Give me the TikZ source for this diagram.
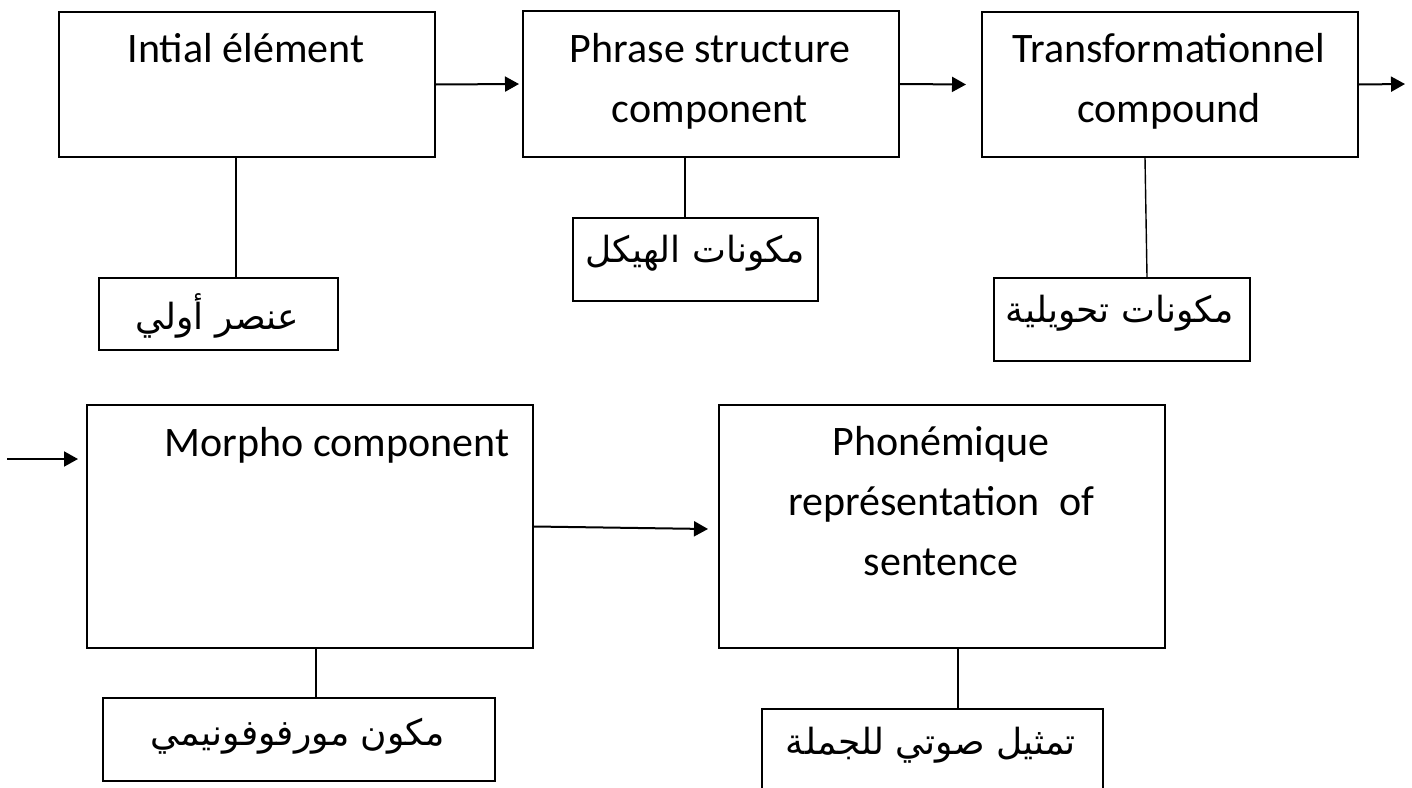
\documentclass[tikz,border=0pt]{standalone}
\usepackage{fontspec}
\setmainfont{Carlito}
\newfontfamily\arabicfont[Script=Arabic]{DejaVu Sans}
\TeXXeTstate=1
\usetikzlibrary{arrows.meta,calc}

\begin{document}
\begin{tikzpicture}[x=1pt,y=-1pt,
  box/.style={draw, line width=2pt, rectangle, inner sep=0pt, anchor=north west},
  link/.style={line width=1.4pt},
  flow/.style={line width=2pt, -{Triangle[length=14pt,width=15pt]}},
  lat/.style={anchor=base, font=\fontsize{42}{50}\selectfont, inner sep=0pt},
  arb/.style={anchor=center, font=\arabicfont\fontsize{36}{42}\selectfont, inner sep=0pt}]
\clip (0,0) rectangle (1412,787);

% main components
\node[box, minimum width=376pt, minimum height=145pt] (b1) at (58,11) {};
\node[box, minimum width=376pt, minimum height=146pt] (b2) at (522,10) {};
\node[box, minimum width=376pt, minimum height=145pt] (b3) at (981,11) {};
\node[box, minimum width=446pt, minimum height=243pt] (b4) at (86,404) {};
\node[box, minimum width=446pt, minimum height=243pt] (b5) at (718,404) {};

% Arabic glosses
\node[box, minimum width=239pt, minimum height=72pt]  (s1) at (98,277) {};
\node[box, minimum width=245pt, minimum height=83pt]  (s2) at (572,217) {};
\node[box, minimum width=256pt, minimum height=83pt]  (s3) at (993,277) {};
\node[box, minimum width=392pt, minimum height=83pt]  (s4) at (102,697) {};
\node[box, minimum width=341pt, minimum height=100pt] (s5) at (761,708) {};

% labels of the components
\node[lat] (t1)  at (246,62)  {Intial élément};
\node[lat] (t2a) at (710,62)  {Phrase structure};
\node[lat] (t2b) at (710,122) {component};
\node[lat] (t3a) at (1169,62) {Transformationnel};
\node[lat] (t3b) at (1169,122){compound};
\node[lat] (t4)  at (337,456) {Morpho component};
\node[lat] (t5a) at (941,455) {Phonémique};
\node[lat] (t5b) at (941,515) {représentation\ \ of};
\node[lat] (t5c) at (941,575) {sentence};

\node[arb] (a1) at (217,316) {\beginR عنصر أولي\endR};
\node[arb] (a2) at (695,253) {\beginR مكونات الهيكل\endR};
\node[arb] (a3) at (1120,313) {\beginR مكونات تحويلية\endR};
\node[arb] (a4) at (298,736) {\beginR مكون مورفوفونيمي\endR};
\node[arb] (a5) at (931,745) {\beginR تمثيل صوتي للجملة\endR};

% vertical links to the glosses
\draw[link] ([xshift=-11pt]b1.south) -- ([xshift=-11pt]b1.south |- s1.north);
\draw[link] ([xshift=-26pt]b2.south) -- ([xshift=-26pt]b2.south |- s2.north);
\draw[link] ([xshift=-25pt]b3.south) -- ([xshift=-23pt]b3.south |- s3.north);
\draw[link] ([xshift=6pt]b4.south)   -- ([xshift=6pt]b4.south |- s4.north);
\draw[link] ([xshift=16pt]b5.south)  -- ([xshift=16pt]b5.south |- s5.north);

% flow arrows
\coordinate (out3) at (1405,84);
\coordinate (in4) at (7,459);
\draw[flow] (b1.east) -- ([xshift=-3pt]b2.west);
\draw[flow] (b2.east) -- ([xshift=-15pt]b3.west);
\draw[flow] (b3.east) -- (out3);
\draw[flow] (in4) -- ($(b4.west |- in4)+(-8,0)$);
\draw[flow] (b4.east) -- ([xshift=-10pt,yshift=-2.5pt]b5.west);
\end{tikzpicture}
\end{document}
